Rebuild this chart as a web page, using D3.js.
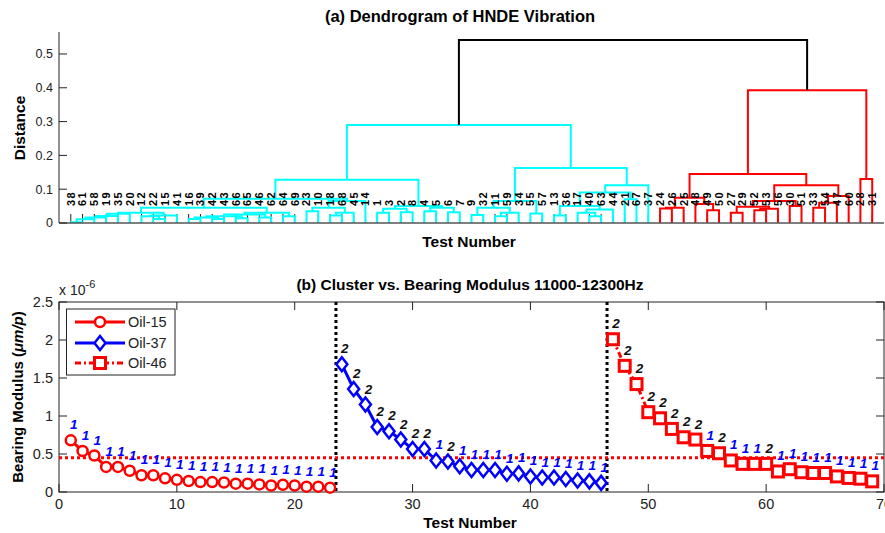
<!DOCTYPE html>
<html><head><meta charset="utf-8">
<script src="https://cdn.jsdelivr.net/npm/d3@7/dist/d3.min.js"></script>
<style>
body{margin:0;background:#fff}
svg{display:block}
text{font-family:"Liberation Sans",Arial,Helvetica,sans-serif}
</style>
</head><body>
<svg id="chart" width="885" height="533"></svg>
<script>
// ---------------- DATA ----------------
// (a) dendrogram: leaf order (test numbers, left to right)
const leafOrder = [38,61,58,19,35,20,12,22,15,41,16,39,42,43,66,65,46,62,64,69,
  23,10,18,68,45,14,1,3,2,8,4,5,6,7,9,32,11,59,34,55,57,13,36,17,40,63,44,21,67,37,
  24,26,25,48,49,50,27,29,52,53,56,30,51,33,54,47,60,28,31];

// linkage tree: [height, left, right]; numbers are test numbers (leaves)
const cyanBranch = [0.29,
  [0.128,
    [0.072,
      [0.045,
        [0.03,
          [0.027,[0.021,[0.016,[0.011,[0.002,38,61],58],19],35],20],
          [0.022,[0.02,12,[0.012,22,15]],41]],
        [0.03,[0.025,[0.02,[0.016,[0.012,16,39],[0.012,42,43]],[0.014,66,65]],[0.016,46,62]],[0.02,64,69]]],
      [0.065,[0.045,[0.035,23,10],[0.03,[0.022,18,68],45]],14]],
    [0.05,[0.042,[0.03,1,3],[0.032,2,8]],[0.045,[0.035,4,5],[0.032,6,7]]]],
  [0.163,
    [0.065,[0.045,[0.024,9,32],[0.03,[0.02,11,59],34]],[0.028,55,57]],
    [0.112,[0.09,[0.05,[0.022,13,36],[0.04,[0.03,17,[0.02,40,63]],44]],[0.07,21,67]],37]]];
const redBranch = [0.393,
  [0.145,
    [0.075,[0.045,[0.043,24,26],25],[0.056,48,[0.038,49,50]]],
    [0.112,
      [0.065,[0.048,[0.03,27,29],[0.042,[0.038,52,53],56]],[0.05,30,51]],
      [0.08,[0.06,[0.045,33,54],47],60]]],
  [0.13,28,31]];
const rootHeight = 0.541;
const distanceTicks = [0,0.1,0.2,0.3,0.4,0.5];

// (b) bearing modulus (x 1e-6)
const testsOil15 = [1,2,3,4,5,6,7,8,9,10,11,12,13,14,15,16,17,18,19,20,21,22,23];
const oil15 = [0.68,0.54,0.48,0.33,0.33,0.28,0.22,0.22,0.18,0.16,0.145,0.13,0.13,0.125,0.11,0.11,0.10,0.085,0.095,0.085,0.07,0.07,0.057];
const testsOil37 = [24,25,26,27,28,29,30,31,32,33,34,35,36,37,38,39,40,41,42,43,44,45,46];
const oil37 = [1.68,1.355,1.15,0.855,0.80,0.69,0.565,0.565,0.415,0.40,0.34,0.29,0.29,0.29,0.24,0.245,0.205,0.19,0.19,0.17,0.15,0.14,0.12];
const testsOil46 = [47,48,49,50,51,52,53,54,55,56,57,58,59,60,61,62,63,64,65,66,67,68,69];
const oil46 = [2.01,1.66,1.42,1.05,0.97,0.83,0.72,0.69,0.54,0.51,0.415,0.37,0.37,0.37,0.27,0.30,0.26,0.25,0.25,0.205,0.185,0.175,0.14];
// cluster number of each test 1..69
const clusterOfTest = [1,1,1,1,1,1,1,1,1,1,1,1,1,1,1,1,1,1,1,1,1,1,1,
  2,2,2,2,2,2,2,2,1,2,1,1,1,1,1,1,1,1,1,1,1,1,1,
  2,2,2,2,2,2,2,2,1,2,1,1,1,2,1,1,1,1,1,1,1,1,1];
const oilBoundaries = [23.5,46.5];
const threshold = 0.45;
const modulusTicks = [0,0.5,1,1.5,2,2.5];
const testTicks = [0,10,20,30,40,50,60,70];
const seriesNames = ["Oil-15","Oil-37","Oil-46"];

// ---------------- DRAW ----------------
const svg = d3.select("#chart");

// ===== panel (a) =====
const xA = d3.scaleLinear().domain([0,70]).range([59,884]);
const yA = d3.scaleLinear().domain([0,0.565]).range([223,32]);
const leafPos = new Map(leafOrder.map((t,i)=>[t,i+1]));
const gA = svg.append("g");

// leaf ticks (under links)
gA.selectAll("line.lt").data(leafOrder).join("line")
  .attr("x1",d=>xA(leafPos.get(d))).attr("x2",d=>xA(leafPos.get(d)))
  .attr("y1",yA(0)).attr("y2",yA(0)-9).attr("stroke","#222").attr("stroke-width",1);

const links = [];
function lay(node,color){
  if(typeof node==="number") return {x:xA(leafPos.get(node)),h:0};
  const [h,a,b]=node;
  const A=lay(a,color), B=lay(b,color);
  links.push({x1:A.x,h1:A.h,x2:B.x,h2:B.h,h,color});
  return {x:(A.x+B.x)/2,h};
}
const cR = lay(cyanBranch,"#00FFFF");
const rR = lay(redBranch,"#FF0000");
links.push({x1:cR.x,h1:cR.h,x2:rR.x,h2:rR.h,h:rootHeight,color:"#000"});

gA.selectAll("path.lk").data(links).join("path")
  .attr("d",d=>`M${d.x1},${yA(d.h1)}V${yA(d.h)}H${d.x2}V${yA(d.h2)}`)
  .attr("fill","none").attr("stroke",d=>d.color).attr("stroke-width",2);

// axes
gA.append("line").attr("x1",59).attr("x2",59).attr("y1",yA(0)).attr("y2",yA(0.565)).attr("stroke","#222");
gA.append("line").attr("x1",59).attr("x2",884).attr("y1",yA(0)).attr("y2",yA(0)).attr("stroke","#555").attr("stroke-width",1.5);
gA.selectAll("line.yt").data(distanceTicks).join("line")
  .attr("x1",59).attr("x2",67).attr("y1",d=>yA(d)).attr("y2",d=>yA(d)).attr("stroke","#222");
gA.selectAll("text.yt").data(distanceTicks).join("text")
  .attr("x",53).attr("y",d=>yA(d)).attr("dy","0.35em").attr("text-anchor","end")
  .attr("font-size",12.5).attr("fill","#222").text(d=>d);

// leaf labels
gA.selectAll("text.lf").data(leafOrder).join("text")
  .attr("transform",d=>`translate(${xA(leafPos.get(d))+3.9},206) rotate(-90)`)
  .attr("font-size",11).attr("font-weight","bold").attr("letter-spacing",1.3)
  .attr("fill","#000").text(d=>d);

gA.append("text").attr("x",460).attr("y",22).attr("text-anchor","middle")
  .attr("font-size",16.5).attr("font-weight","bold").text("(a) Dendrogram of HNDE Vibration");
gA.append("text").attr("x",469).attr("y",247).attr("text-anchor","middle")
  .attr("font-size",15.5).attr("font-weight","bold").text("Test Number");
gA.append("text").attr("transform","translate(25,128) rotate(-90)").attr("text-anchor","middle")
  .attr("font-size",15.5).attr("font-weight","bold").text("Distance");

// ===== panel (b) =====
const xB = d3.scaleLinear().domain([0,70]).range([59,884]);
const yB = d3.scaleLinear().domain([0,2.5]).range([492,302]);
const gB = svg.append("g");

gB.append("rect").attr("x",59).attr("y",302).attr("width",825).attr("height",190)
  .attr("fill","none").attr("stroke","#222").attr("stroke-width",1);
gB.selectAll("line.xt").data(testTicks).join("line")
  .attr("x1",d=>xB(d)).attr("x2",d=>xB(d)).attr("y1",492).attr("y2",484).attr("stroke","#222");
gB.selectAll("line.xt2").data(testTicks).join("line")
  .attr("x1",d=>xB(d)).attr("x2",d=>xB(d)).attr("y1",302).attr("y2",310).attr("stroke","#222");
gB.selectAll("line.yt").data(modulusTicks).join("line")
  .attr("x1",59).attr("x2",67).attr("y1",d=>yB(d)).attr("y2",d=>yB(d)).attr("stroke","#222");
gB.selectAll("line.yt2").data(modulusTicks).join("line")
  .attr("x1",884).attr("x2",876).attr("y1",d=>yB(d)).attr("y2",d=>yB(d)).attr("stroke","#222");
gB.selectAll("text.xt").data(testTicks).join("text")
  .attr("x",d=>xB(d)).attr("y",509).attr("text-anchor","middle").attr("font-size",14.5).attr("fill","#222").text(d=>d);
gB.selectAll("text.yt").data(modulusTicks).join("text")
  .attr("x",53).attr("y",d=>yB(d)).attr("dy","0.35em").attr("text-anchor","end").attr("font-size",14.5).attr("fill","#222").text(d=>d);

// exponent
const ex = gB.append("text").attr("x",59).attr("y",295).attr("font-size",14).attr("fill","#222");
ex.append("tspan").text("x 10");
ex.append("tspan").attr("dy",-7).attr("font-size",11).text("-6");

// series
const s15 = testsOil15.map((t,i)=>({t,v:oil15[i]}));
const s37 = testsOil37.map((t,i)=>({t,v:oil37[i]}));
const s46 = testsOil46.map((t,i)=>({t,v:oil46[i]}));
const line = d3.line().x(d=>xB(d.t)).y(d=>yB(d.v));

// boundaries + threshold
gB.selectAll("line.bd").data(oilBoundaries).join("line")
  .attr("x1",d=>xB(d)).attr("x2",d=>xB(d)).attr("y1",302).attr("y2",492)
  .attr("stroke","#000").attr("stroke-width",3).attr("stroke-dasharray","3,3");

gB.append("path").attr("d",line(s15)).attr("fill","none").attr("stroke","#FF0000").attr("stroke-width",3);
gB.append("path").attr("d",line(s37)).attr("fill","none").attr("stroke","#0000FF").attr("stroke-width",3);
gB.append("path").attr("d",line(s46)).attr("fill","none").attr("stroke","#FF0000").attr("stroke-width",3).attr("stroke-dasharray","6,3,2,3");

gB.append("line").attr("x1",59).attr("x2",884).attr("y1",yB(threshold)).attr("y2",yB(threshold))
  .attr("stroke","#FF0000").attr("stroke-width",3).attr("stroke-dasharray","3,3");

gB.selectAll("circle.m").data(s15).join("circle")
  .attr("cx",d=>xB(d.t)).attr("cy",d=>yB(d.v)).attr("r",5)
  .attr("fill","#fff").attr("stroke","#FF0000").attr("stroke-width",2.5);
gB.selectAll("path.dm").data(s37).join("path")
  .attr("transform",d=>`translate(${xB(d.t)},${yB(d.v)})`)
  .attr("d","M0,-7L5.5,0L0,7L-5.5,0Z")
  .attr("fill","#fff").attr("stroke","#0000FF").attr("stroke-width",2.5);
gB.selectAll("rect.sq").data(s46).join("rect")
  .attr("x",d=>xB(d.t)-5.5).attr("y",d=>yB(d.v)-5.5).attr("width",11).attr("height",11)
  .attr("fill","#fff").attr("stroke","#FF0000").attr("stroke-width",3);

// cluster labels
const allPts = s15.concat(s37,s46);
gB.selectAll("text.cl").data(allPts).join("text")
  .attr("x",d=>xB(d.t)+3).attr("y",d=>yB(d.v)-11).attr("text-anchor","middle")
  .attr("font-size",13.5).attr("font-weight","bold").attr("font-style","italic")
  .attr("fill",d=>clusterOfTest[d.t-1]===1?"#0000FF":"#111")
  .text(d=>clusterOfTest[d.t-1]);

// legend
const lg = gB.append("g");
lg.append("rect").attr("x",66.5).attr("y",309).attr("width",108.5).attr("height",66)
  .attr("fill","#fff").attr("stroke","#222");
const lgY = [322,343,363];
const lgCol = ["#FF0000","#0000FF","#FF0000"];
const lgDash = [null,null,"6,3,2,3"];
seriesNames.forEach((n,i)=>{
  lg.append("line").attr("x1",75).attr("x2",125).attr("y1",lgY[i]).attr("y2",lgY[i])
    .attr("stroke",lgCol[i]).attr("stroke-width",3).attr("stroke-dasharray",lgDash[i]);
  lg.append("text").attr("x",128).attr("y",lgY[i]).attr("dy","0.36em").attr("font-size",14.5).attr("fill","#222").text(n);
});
lg.append("circle").attr("cx",100).attr("cy",lgY[0]).attr("r",5).attr("fill","#fff").attr("stroke","#FF0000").attr("stroke-width",2.5);
lg.append("path").attr("transform",`translate(100,${lgY[1]})`).attr("d","M0,-7L5.5,0L0,7L-5.5,0Z").attr("fill","#fff").attr("stroke","#0000FF").attr("stroke-width",2.5);
lg.append("rect").attr("x",94.5).attr("y",lgY[2]-5.5).attr("width",11).attr("height",11).attr("fill","#fff").attr("stroke","#FF0000").attr("stroke-width",3);

gB.append("text").attr("x",470).attr("y",290).attr("text-anchor","middle")
  .attr("font-size",15.5).attr("font-weight","bold").text("(b) Cluster vs. Bearing Modulus 11000-12300Hz");
gB.append("text").attr("x",470).attr("y",528).attr("text-anchor","middle")
  .attr("font-size",15.5).attr("font-weight","bold").text("Test Number");
const yl = gB.append("text").attr("transform","translate(23,397) rotate(-90)").attr("text-anchor","middle")
  .attr("font-size",15).attr("font-weight","bold");
yl.append("tspan").text("Bearing Modulus (");
yl.append("tspan").attr("font-style","italic").text("μm/p");
yl.append("tspan").text(")");
</script>
</body></html>
